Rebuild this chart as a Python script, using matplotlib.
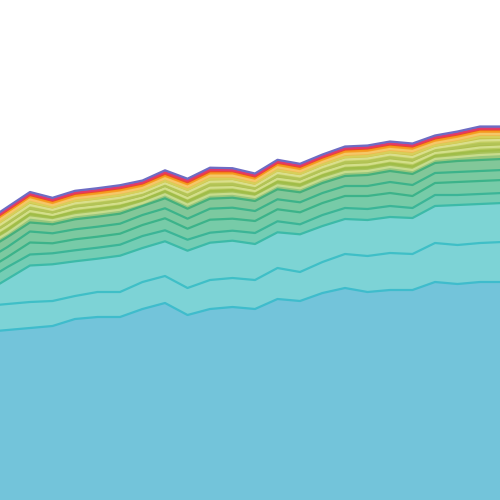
import matplotlib
matplotlib.use("Agg")
import matplotlib.pyplot as plt
import numpy as np

# 24 sample points, evenly spaced; the first and last fall just outside the view
x = np.arange(24)

# layer thicknesses, bottom to top
base = [168, 170, 172, 174, 181, 183, 183, 191, 197, 185, 191, 193, 191, 201, 199, 207, 212, 208, 210, 210, 218, 216, 218, 218]
cyan_a = [26, 26, 26, 25, 23, 25, 25, 27, 27, 27, 29, 29, 29, 31, 29, 31, 34, 36, 37, 36, 39, 39, 39, 40]
cyan_b = [13.5, 25, 36.5, 36.7, 34.7, 33.3, 36.3, 34, 34.7, 37.3, 37.3, 37.3, 36, 35.7, 37.7, 36, 35, 36, 36, 36, 37, 40, 39, 39]
green_a = [12, 12, 11, 11, 11, 11, 11, 12, 11, 11, 10, 10, 11, 11, 10, 11, 11, 11, 11, 10, 11, 10, 10, 10]
green_b = [10, 10, 12, 10, 11, 11, 11, 11, 12, 11, 13, 12, 12, 12, 12, 12, 12, 13, 13, 12, 12, 13, 13, 13]
green_c = [10, 10, 11, 10, 10, 10, 10, 10, 10, 10, 11, 11, 10, 10, 10, 10, 10, 10, 11, 11, 10, 10, 10, 10]
green_d = [10, 10, 9, 9, 10, 10, 10, 9, 10, 10, 10, 10, 10, 10, 10, 10, 10, 11, 11, 11, 10, 11, 11, 11]
olive_a = [4, 4, 5, 4, 4, 4, 4, 3, 4, 4, 4, 4, 4, 4, 4, 4, 4, 4, 4, 4, 4, 4, 5, 5]
olive_b = [3.5, 3.5, 3.5, 3, 3.5, 3.5, 3.5, 3, 3, 3.5, 3.5, 3.5, 3, 3.5, 3.5, 3.5, 3.5, 3.5, 3.5, 3.5, 3, 3.5, 4, 4]
olive_c = [3, 3.5, 3, 2.5, 3, 3, 3, 2.5, 3, 3, 3.5, 3, 3, 3, 3, 3, 3, 3, 3, 3.5, 3, 3, 3.5, 3.5]
olive_d = [2.5, 3, 3, 2.5, 2.5, 2.5, 2.5, 2.5, 2.5, 3, 3, 3, 2.5, 3, 2.5, 2.5, 3, 3, 3, 3, 2.5, 3, 3.5, 3]
yellow_a = [3, 3, 3, 2.5, 3, 3, 3, 2.5, 2.5, 3, 3, 3, 2.5, 3, 3, 3, 3, 3, 3, 3, 2.5, 3, 3.5, 3.5]
yellow_b = [2.5, 3, 3, 2.5, 2.5, 2.5, 2.5, 2, 2.5, 2.5, 3, 2.5, 2.5, 2.5, 2.5, 2.5, 2.5, 2.5, 2.5, 3, 2.5, 2.5, 3.5, 3]
yellow_c = [2.5, 2.5, 2.5, 2, 2.5, 2.5, 2.5, 2.5, 2.5, 3, 3, 3, 2.5, 3, 2.5, 2.5, 3, 3, 3, 3, 2.5, 3, 3, 3]
orange = [3, 3, 3, 3, 3, 3, 3, 3, 3, 3, 3, 3, 3, 3, 3, 3, 3, 3, 3, 3, 3, 3, 3, 3]
red = [1.5, 1.5, 1.5, 1.5, 1.5, 1.5, 1.5, 1.5, 1.5, 1.5, 1.5, 1.5, 1.5, 1.5, 1.5, 1.5, 1.5, 1.5, 1.5, 1.5, 1.5, 1.5, 1.5, 1.5]
pink = [1, 1, 1, 1, 1, 1, 1, 1, 1.5, 1.5, 1.5, 1, 1, 1, 1, 1, 1, 1, 1, 1, 1, 1, 1, 1]
purple = [2, 2, 2, 2, 2, 2, 2, 2, 2, 2, 2, 2, 2, 2, 2, 2, 2, 2, 2, 2, 2, 2, 2, 2]

layers = [base, cyan_a, cyan_b, green_a, green_b, green_c, green_d,
          olive_a, olive_b, olive_c, olive_d, yellow_a, yellow_b, yellow_c,
          orange, red, pink, purple]

fills = ['#73c4da', '#7dd3d6', '#7dd4d4', '#74cdb4', '#77cba8', '#7cc9a0', '#82c799',
         '#98c67c', '#a8c35a', '#b9cb62', '#aebf4e', '#c4cf62', '#c8c44a', '#f0b94c',
         '#f6a32c', '#f15a34', '#e84a78', '#7a78c8']
lines = ['#3fbccc', '#3fbfc7', '#3cbaa8', '#3bb597', '#3cb38a', '#3cb38a', '#45b07c',
         '#c7dc8e', '#a0bd48', '#d3df8a', '#b3c456', '#dadf8c', '#d8cf5a', '#f5c768',
         '#f59a1c', '#ee4b25', '#e23a6a', '#6d6cc4']

fig = plt.figure(figsize=(5, 5), dpi=100)
ax = fig.add_axes([0, 0, 1, 1])

tops = np.cumsum(np.array(layers, dtype=float), axis=0)
bottom = np.zeros(len(x))
for top, fc in zip(tops, fills):
    ax.fill_between(x, bottom, top, color=fc, linewidth=0)
    bottom = top
for top, lc in zip(tops, lines):
    ax.plot(x, top, color=lc, linewidth=1.6)

ax.set_xlim(15 / 22.5, 515 / 22.5)
ax.set_ylim(0, 500)
ax.axis('off')

fig.savefig('out.png', dpi=100)
